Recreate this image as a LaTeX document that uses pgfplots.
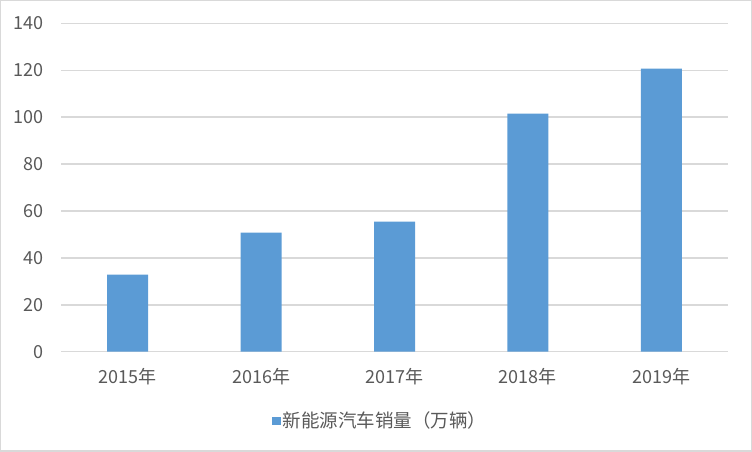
\documentclass[border=0pt]{standalone}
\usepackage{fontspec}
\setmainfont{Noto Sans CJK SC}
\usepackage{pgfplots}
\pgfplotsset{compat=1.18}
\definecolor{barblue}{HTML}{5B9BD5}
\definecolor{gridgray}{HTML}{D9D9D9}
\definecolor{txtgray}{HTML}{595959}
\begin{document}
\begin{tikzpicture}[x=1bp,y=1bp]
% chart border
\draw[gridgray, line width=1.5bp] (0.75,0.75) rectangle (751.25,451.25);
\begin{axis}[
    at={(61bp,100.3bp)}, anchor=south west,
    scale only axis, width=667bp, height=328.2bp,
    xmin=-0.5, xmax=4.5,
    ymin=0, ymax=140,
    xtick={0,1,2,3,4},
    xticklabels={2015年,2016年,2017年,2018年,2019年},
    ytick={0,20,40,60,80,100,120,140},
    axis line style={draw=none},
    major tick length=0pt,
    ymajorgrids,
    grid style={gridgray, line width=1.6bp},
    /pgf/number format/assume math mode=true,
    ticklabel style={font=\fontsize{18bp}{21bp}\selectfont, text=txtgray},
    yticklabel style={inner sep=0pt, xshift=-17bp},
    xticklabel style={anchor=base, inner sep=0pt, yshift=-32bp},
    ybar, bar width=41bp, bar shift=0pt,
    legend style={at={(0.3163,-0.2105)}, anchor=west, draw=none, fill=none,
        font=\fontsize{18.5bp}{21bp}\selectfont, text=txtgray, inner sep=0pt,
        nodes={inner sep=2bp}},
    legend image code/.code={\fill[#1] (0bp,-4.25bp) rectangle (8.5bp,4.25bp);},
]
\addplot[draw=none, fill=barblue] coordinates {
    (0,32.9) (1,50.8) (2,55.5) (3,101.5) (4,120.7)
};
\addlegendentry{新能源汽车销量（万辆）}
\end{axis}
\end{tikzpicture}
\end{document}
